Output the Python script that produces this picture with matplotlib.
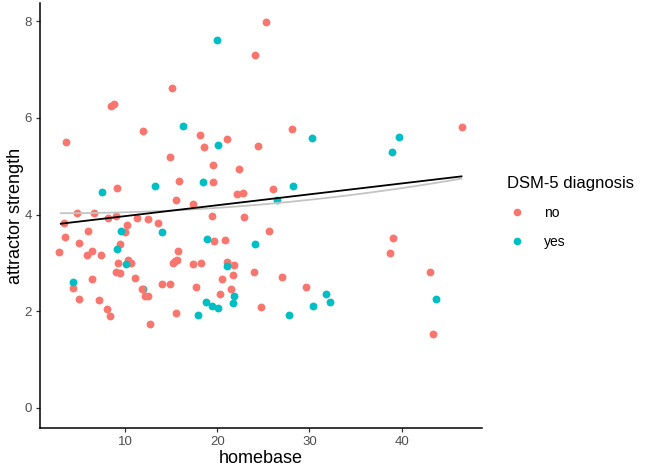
import matplotlib
matplotlib.use("Agg")
import matplotlib.pyplot as plt
from matplotlib.lines import Line2D
import numpy as np

plt.rcParams['font.family'] = ['Liberation Sans', 'DejaVu Sans']

# DSM-5 diagnosis = "no"
no_x = [3.56, 8.44, 8.80, 15.10, 11.95, 18.10, 18.54, 21.04, 14.88, 19.48,
        15.83, 19.48, 22.31, 9.13, 15.50, 17.31, 22.15, 22.74, 4.79, 6.60,
        3.38, 8.15, 8.99, 19.41, 22.85, 11.27, 12.46, 13.58, 10.15, 3.45,
        6.00, 5.00, 10.02, 9.42, 19.62, 20.85, 25.24, 24.07, 28.12, 24.45,
        26.03, 25.63, 39.09, 2.83, 4.27, 5.00, 5.87, 6.35, 6.35, 7.41,
        7.16, 8.06, 8.36, 9.23, 8.99, 9.42, 10.26, 10.62, 11.07, 11.79,
        12.16, 12.49, 12.66, 13.95, 14.85, 15.21, 15.39, 15.58, 15.74, 15.48,
        17.40, 18.21, 17.67, 20.33, 20.46, 21.00, 21.82, 21.72, 21.45, 24.00,
        27.04, 29.58, 24.69, 38.73, 43.04, 43.40, 46.51]
no_y = [5.50, 6.25, 6.29, 6.61, 5.73, 5.64, 5.40, 5.57, 5.20, 5.02,
        4.69, 4.68, 4.94, 4.55, 4.30, 4.22, 4.42, 4.44, 4.04, 4.04,
        3.83, 3.92, 3.97, 3.98, 3.94, 3.92, 3.91, 3.83, 3.78, 3.53,
        3.65, 3.41, 3.64, 3.39, 3.45, 3.47, 7.98, 7.30, 5.77, 5.42,
        4.53, 3.66, 3.51, 3.22, 2.48, 2.25, 3.16, 3.25, 2.66, 3.16,
        2.24, 2.04, 1.90, 2.99, 2.82, 2.78, 3.06, 2.99, 2.68, 2.45,
        2.31, 2.31, 1.74, 2.56, 2.56, 2.99, 3.04, 3.06, 3.25, 1.97,
        2.97, 2.99, 2.51, 2.35, 2.67, 3.02, 2.95, 2.75, 2.45, 2.81,
        2.71, 2.51, 2.09, 3.20, 2.80, 1.53, 5.81]

# DSM-5 diagnosis = "yes"
yes_x = [19.92, 16.23, 20.06, 7.52, 13.24, 18.46, 9.51, 13.98, 18.86, 9.06,
         30.29, 39.70, 38.94, 28.25, 26.43, 24.05, 4.34, 10.07, 11.97, 17.94,
         18.81, 19.43, 20.09, 21.04, 21.85, 21.72, 31.81, 32.22, 30.34, 27.73,
         43.72]
yes_y = [7.61, 5.83, 5.43, 4.46, 4.59, 4.68, 3.66, 3.63, 3.49, 3.29,
         5.58, 5.61, 5.29, 4.60, 4.31, 3.40, 2.61, 2.98, 2.46, 1.92,
         2.19, 2.11, 2.07, 2.93, 2.32, 2.17, 2.35, 2.19, 2.10, 1.93,
         2.25]

# fitted lines
lin_x = [3.0, 46.5]
lin_y = [3.81, 4.79]
smooth_x = [3.0, 10.0, 16.5, 25.0, 32.8, 40.0, 46.5]
smooth_y = [4.02, 4.05, 4.11, 4.22, 4.34, 4.55, 4.75]

legend_labels = ["no", "yes"]
legend_title = "DSM-5 diagnosis"
xlabel = "homebase"
ylabel = "attractor strength"
xticks = [10, 20, 30, 40]
yticks = [0, 2, 4, 6, 8]

RED = "#F8766D"
CYAN = "#00BFC4"

fig = plt.figure(figsize=(6.45, 4.69), dpi=100)
ax = fig.add_axes([0.062, 0.0874, 0.685, 0.9062])

ax.scatter(yes_x[18:19], yes_y[18:19], s=32, color=CYAN, linewidths=0, zorder=2)
ax.scatter(no_x, no_y, s=32, color=RED, linewidths=0, zorder=3)
ax.scatter(yes_x[:18] + yes_x[19:], yes_y[:18] + yes_y[19:], s=32, color=CYAN,
           linewidths=0, zorder=4)

coef = np.polyfit(smooth_x, smooth_y, 2)
sx = np.linspace(min(smooth_x), max(smooth_x), 100)
ax.plot(sx, np.polyval(coef, sx), color="#c4c4c4", lw=1.3, zorder=5)
ax.plot(lin_x, lin_y, color="black", lw=1.3, zorder=6)

ax.set_xlim(0.74, 48.71)
ax.set_ylim(-0.42, 8.38)
ax.set_xticks(xticks)
ax.set_yticks(yticks)
for s in ["top", "right"]:
    ax.spines[s].set_visible(False)
for s in ["left", "bottom"]:
    ax.spines[s].set_linewidth(1.1)
    ax.spines[s].set_color("black")
ax.tick_params(axis="both", length=3, width=0.9, color="#333333",
               labelcolor="#4d4d4d", labelsize=9.5, pad=3)
ax.set_xlabel(xlabel, fontsize=13, color="black", labelpad=1)
ax.set_ylabel(ylabel, fontsize=13, color="black", labelpad=0)

handles = [Line2D([], [], marker="o", ls="", color=RED, markersize=5.5, markeredgewidth=0),
           Line2D([], [], marker="o", ls="", color=CYAN, markersize=5.5, markeredgewidth=0)]
leg = fig.legend(handles, legend_labels, title=legend_title, loc="upper left",
                 bbox_to_anchor=(0.775, 0.64), frameon=False, fontsize=10,
                 title_fontsize=12, handletextpad=1.2, labelspacing=1.1,
                 borderpad=0, handlelength=1.5)
leg._legend_box.align = "left"

fig.savefig("out.png", dpi=100)
